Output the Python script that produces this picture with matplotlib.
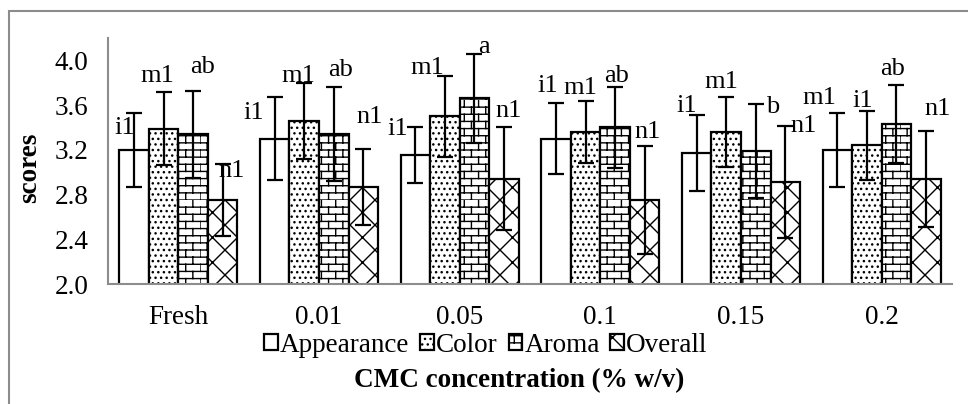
import warnings
import numpy as np
import matplotlib
matplotlib.use("Agg")
import matplotlib.pyplot as plt
import matplotlib.hatch as mhatch
from matplotlib.path import Path
from matplotlib.patches import Rectangle, Patch

warnings.filterwarnings("ignore")

# ---- data ----
categories = ["Fresh", "0.01", "0.05", "0.1", "0.15", "0.2"]
series = ["Appearance", "Color", "Aroma", "Overall"]
appearance = [3.20, 3.30, 3.15, 3.30, 3.17, 3.20]
color = [3.39, 3.46, 3.50, 3.36, 3.36, 3.24]
aroma = [3.34, 3.34, 3.66, 3.40, 3.19, 3.43]
overall = [2.75, 2.87, 2.94, 2.75, 2.91, 2.94]
appearance_err = [0.33, 0.37, 0.25, 0.32, 0.34, 0.33]
color_err = [0.33, 0.34, 0.36, 0.28, 0.31, 0.31]
aroma_err = [0.39, 0.42, 0.40, 0.36, 0.42, 0.35]
overall_err = [0.32, 0.34, 0.46, 0.48, 0.50, 0.43]
appearance_lbl = ["i1", "i1", "i1", "i1", "i1", "m1"]
color_lbl = ["m1", "m1", "m1", "m1", "m1", "i1"]
aroma_lbl = ["ab", "ab", "a", "ab", "b", "ab"]
overall_lbl = ["n1", "n1", "n1", "n1", "n1", "n1"]

# label offsets (pixels) from the error bar top, per series/category
lbl_dx = [[-9, -21, -18, -8, -10, -18],
          [-6, -6, -18, -5, -5, -4],
          [9, 7, 10, 1, 17, -4],
          [9, 6, 5, 3, 18, 12]]
lbl_dy = [[-15, -16, -2, 17, 9, 15],
          [16, 7, 8, 13, 15, 10],
          [24, 17, 7, 11, -3, 16],
          [-7, 32, 16, 14, 0, 22]]


# brick hatch (Excel style)
class BrickHatch(mhatch.HatchPatternBase):
    def __init__(self, hatch, density):
        n = hatch.count('B')
        self.rows = 14 * n
        self.cols = 7 * n
        self.num_vertices = self.rows * (2 + 2 * self.cols) if n else 0

    def set_vertices_and_codes(self, vertices, codes):
        h = 1.0 / self.rows
        w = 1.0 / self.cols
        k = 0
        for r in range(self.rows):
            y0 = r * h
            vertices[k] = (0, y0); vertices[k + 1] = (1, y0)
            codes[k] = Path.MOVETO; codes[k + 1] = Path.LINETO
            k += 2
            shift = 0.5 * w if r % 2 else 0.0
            for c in range(self.cols):
                x0 = c * w + shift
                vertices[k] = (x0, y0); vertices[k + 1] = (x0, y0 + h)
                codes[k] = Path.MOVETO; codes[k + 1] = Path.LINETO
                k += 2


# cross hatch, 8 lines per inch each way
class WeaveHatch(mhatch.HatchPatternBase):
    def __init__(self, hatch, density):
        n = hatch.count('W')
        self.num_lines = 8 * n
        self.num_vertices = (self.num_lines + 1) * 4 if n else 0

    def set_vertices_and_codes(self, vertices, codes):
        steps = np.linspace(-0.5, 0.5, self.num_lines + 1)
        k = 0
        for s in steps:
            vertices[k] = (0 + s, 0 - s); vertices[k + 1] = (1 + s, 1 - s)
            vertices[k + 2] = (0 + s, 1 + s); vertices[k + 3] = (1 + s, 0 + s)
            codes[k] = Path.MOVETO; codes[k + 1] = Path.LINETO
            codes[k + 2] = Path.MOVETO; codes[k + 3] = Path.LINETO
            k += 4


mhatch._hatch_types.append(BrickHatch)
mhatch._hatch_types.append(WeaveHatch)

plt.rcParams['font.family'] = ['Liberation Serif', 'DejaVu Serif']
plt.rcParams['hatch.linewidth'] = 1.0
FS = 19.5
GREY = '#8c8c8c'

fig = plt.figure(figsize=(9.68, 4.04), dpi=100)
ax = fig.add_axes([108 / 968, 1 - 284 / 404, (952 - 108) / 968, (284 - 38) / 404])

values = [appearance, color, aroma, overall]
errs = [appearance_err, color_err, aroma_err, overall_err]
labels = [appearance_lbl, color_lbl, aroma_lbl, overall_lbl]
hatches = ['', '...', 'B', 'W']

x = np.arange(len(categories))
w = 0.21
for i in range(4):
    xs = x + (i - 1.5) * w
    ax.bar(xs, values[i], w, bottom=0, color='white', edgecolor='black',
           linewidth=1.6, hatch=hatches[i], zorder=2)
    ax.errorbar(xs, values[i], yerr=errs[i], fmt='none', ecolor='black',
                elinewidth=1.6, capsize=6, capthick=1.6, zorder=3)
    for j in range(len(categories)):
        ax.annotate(labels[i][j], (xs[j], values[i][j] + errs[i][j]),
                    xytext=(lbl_dx[i][j], lbl_dy[i][j]), textcoords='offset pixels',
                    ha='center', va='center', fontsize=FS - 0.5, zorder=4)

ax.set_ylim(2.0, 4.2)
ax.set_xlim(-0.5, len(categories) - 0.5)
ax.set_yticks(np.arange(2.0, 4.01, 0.4))
ax.set_yticklabels([f"{v:.1f}" for v in np.arange(2.0, 4.01, 0.4)])
ax.set_xticks(x)
ax.set_xticklabels(categories)
ax.tick_params(axis='both', length=0, labelsize=FS)
ax.tick_params(axis='y', pad=14)
ax.tick_params(axis='x', pad=15)
for s in ['top', 'right']:
    ax.spines[s].set_visible(False)
for s in ['left', 'bottom']:
    ax.spines[s].set_color(GREY)
    ax.spines[s].set_linewidth(1.5)

fig.text(30 / 968, 1 - 168 / 404, 'scores', rotation=90, fontsize=FS,
         fontweight='bold', ha='center', va='center')
fig.text(519 / 968, 1 - 381 / 404, 'CMC concentration (% w/v)', fontsize=FS,
         fontweight='bold', ha='center', va='center')

handles = [Patch(facecolor='white', edgecolor='black', linewidth=1.6, hatch=h)
           for h in hatches]
fig.legend(handles, series, loc='center', bbox_to_anchor=(486 / 968, 1 - 345 / 404),
           ncol=4, frameon=False, fontsize=FS, handlelength=0.5, handleheight=0.5,
           handletextpad=0.08, columnspacing=0.4, borderpad=0)

fig.patches.append(Rectangle((9 / 968, -0.1), 1.2, 1 - 11 / 404 + 0.1,
                             transform=fig.transFigure, fill=False,
                             edgecolor=GREY, linewidth=1.5))

fig.savefig('out.png', dpi=100)
